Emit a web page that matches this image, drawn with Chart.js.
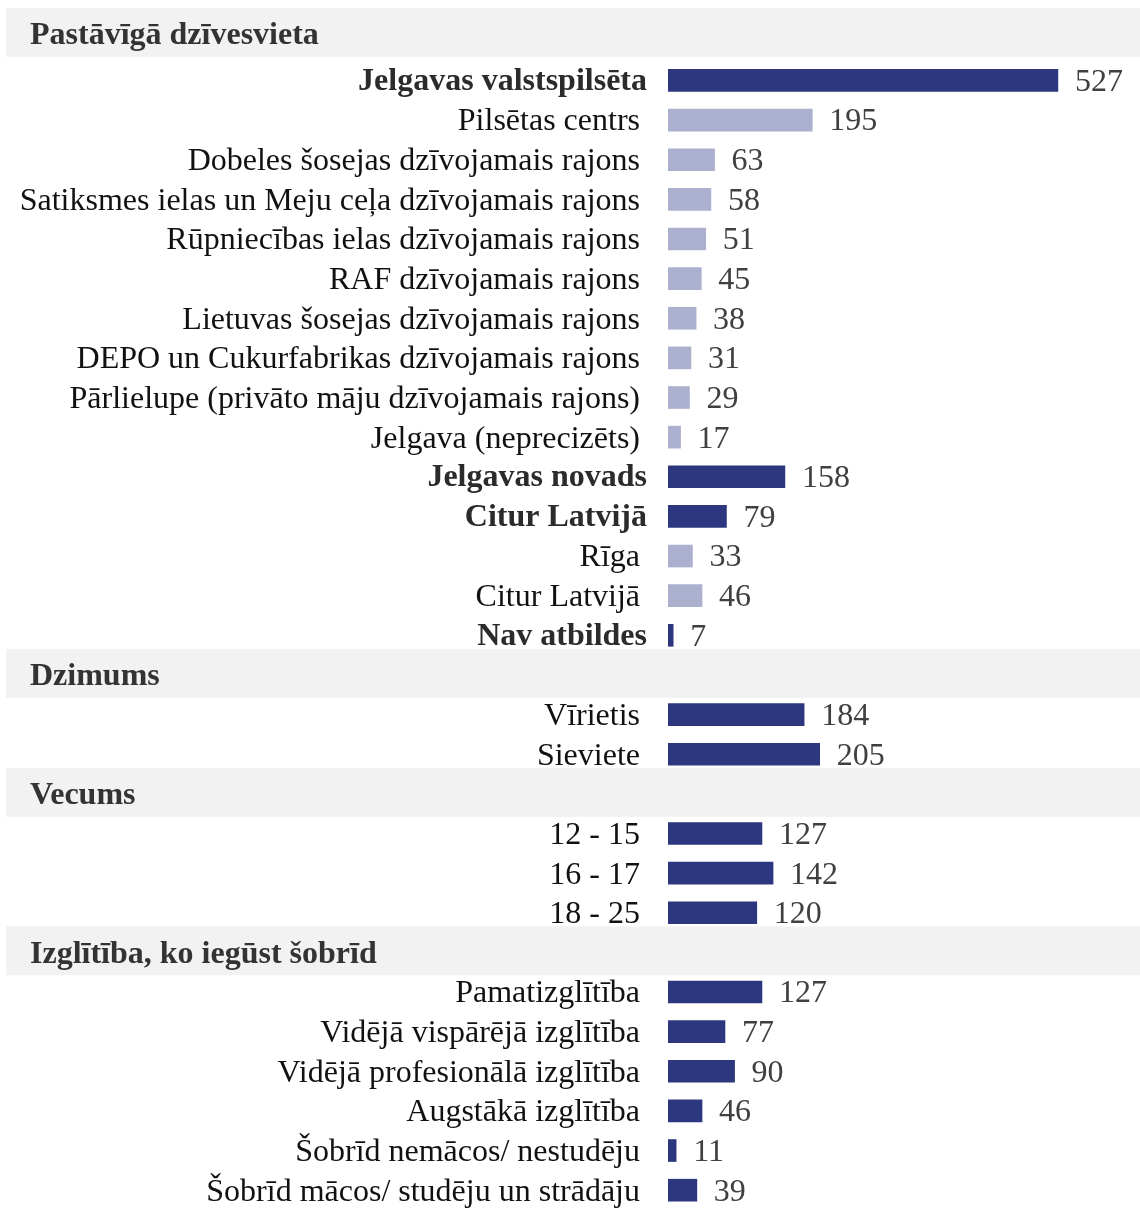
<!DOCTYPE html>
<html>
<head>
<meta charset="utf-8">
<script src="https://cdn.jsdelivr.net/npm/chart.js@4.4.1/dist/chart.umd.min.js"></script>
<style>
  html, body { margin: 0; padding: 0; background: #fff; }
  canvas { display: block; }
</style>
</head>
<body>
<canvas id="chart" width="1140" height="1210"></canvas>
<script>
// Sadaļu virsraksti
const sectionTitles = ['Pastāvīgā dzīvesvieta', 'Dzimums', 'Vecums', 'Izglītība, ko iegūst šobrīd'];

// Pastāvīgā dzīvesvieta (level 0 = kopsumma, 1 = apakšgrupa)
const residenceLabels = [
    'Jelgavas valstspilsēta',
    'Pilsētas centrs',
    'Dobeles šosejas dzīvojamais rajons',
    'Satiksmes ielas un Meju ceļa dzīvojamais rajons',
    'Rūpniecības ielas dzīvojamais rajons',
    'RAF dzīvojamais rajons',
    'Lietuvas šosejas dzīvojamais rajons',
    'DEPO un Cukurfabrikas dzīvojamais rajons',
    'Pārlielupe (privāto māju dzīvojamais rajons)',
    'Jelgava (neprecizēts)',
    'Jelgavas novads',
    'Citur Latvijā',
    'Rīga',
    'Citur Latvijā',
    'Nav atbildes'
];
const residenceValues = [527, 195, 63, 58, 51, 45, 38, 31, 29, 17, 158, 79, 33, 46, 7];
const residenceLevel = [0, 1, 1, 1, 1, 1, 1, 1, 1, 1, 0, 0, 1, 1, 0];

const genderLabels = ['Vīrietis', 'Sieviete'];
const genderValues = [184, 205];

const ageLabels = ['12 - 15', '16 - 17', '18 - 25'];
const ageValues = [127, 142, 120];

const educationLabels = [
    'Pamatizglītība',
    'Vidējā vispārējā izglītība',
    'Vidējā profesionālā izglītība',
    'Augstākā izglītība',
    'Šobrīd nemācos/ nestudēju',
    'Šobrīd mācos/ studēju un strādāju'
];
const educationValues = [127, 77, 90, 46, 11, 39];

const DARK = '#2c377f';
const LIGHT = '#abb0cf';
const FONT = '"Liberation Serif", "Times New Roman", serif';

// Saliek visas rindas vienā kategoriju asī (virsraksts = rinda bez stabiņa)
const rows = [];
function addSection(title, labels, values, levels) {
    rows.push({ label: title, value: null, type: 'header' });
    labels.forEach((l, i) => {
        const lvl = levels ? levels[i] : 2;
        rows.push({ label: l, value: values[i], type: lvl === 0 ? 'bold' : (lvl === 1 ? 'sub' : 'plain') });
    });
}
addSection(sectionTitles[0], residenceLabels, residenceValues, residenceLevel);
addSection(sectionTitles[1], genderLabels, genderValues);
addSection(sectionTitles[2], ageLabels, ageValues);
addSection(sectionTitles[3], educationLabels, educationValues);

const firstBandShift = -7;

const bandsAndLabels = {
    id: 'bandsAndLabels',
    beforeDatasetsDraw(chart) {
        const { ctx } = chart;
        const y = chart.scales.y;
        ctx.save();
        rows.forEach((r, i) => {
            if (r.type !== 'header') return;
            const cy = y.getPixelForValue(i) + (i === 0 ? firstBandShift : 0);
            ctx.fillStyle = '#f2f2f2';
            ctx.fillRect(6, cy - 26, chart.width - 6, 49);
            ctx.fillStyle = '#333333';
            ctx.font = 'bold 32px ' + FONT;
            ctx.textAlign = 'left';
            ctx.textBaseline = 'middle';
            ctx.fillText(r.label, 30, cy + 2);
        });
        rows.forEach((r, i) => {
            if (r.type === 'header') return;
            const cy = y.getPixelForValue(i);
            ctx.textAlign = 'right';
            ctx.textBaseline = 'middle';
            if (r.type === 'bold') {
                ctx.font = 'bold 32px ' + FONT;
                ctx.fillStyle = '#2b2b2b';
                ctx.fillText(r.label, 647, cy + 1);
            } else {
                ctx.font = '32px ' + FONT;
                ctx.fillStyle = '#111111';
                ctx.fillText(r.label, 640, cy + 2);
            }
        });
        ctx.restore();
    },
    afterDatasetsDraw(chart) {
        const { ctx } = chart;
        const meta = chart.getDatasetMeta(0);
        ctx.save();
        ctx.font = '32px ' + FONT;
        ctx.fillStyle = '#404040';
        ctx.textAlign = 'left';
        ctx.textBaseline = 'middle';
        meta.data.forEach((bar, i) => {
            const v = rows[i].value;
            if (v === null) return;
            ctx.fillText(String(v), bar.x + 17, bar.y + 2);
        });
        ctx.restore();
    }
};

new Chart(document.getElementById('chart'), {
    type: 'bar',
    data: {
        labels: rows.map(r => r.label),
        datasets: [{
            data: rows.map(r => r.value),
            backgroundColor: rows.map(r => r.type === 'sub' ? LIGHT : DARK),
            borderWidth: 0,
            barThickness: 22
        }]
    },
    options: {
        indexAxis: 'y',
        responsive: false,
        animation: false,
        layout: { padding: { left: 668, right: 0, top: 21, bottom: 0 } },
        plugins: {
            legend: { display: false },
            tooltip: { enabled: false }
        },
        scales: {
            x: { display: false, min: 0, max: 638 },
            y: { display: false, offset: true }
        }
    },
    plugins: [bandsAndLabels]
});
</script>
</body>
</html>
